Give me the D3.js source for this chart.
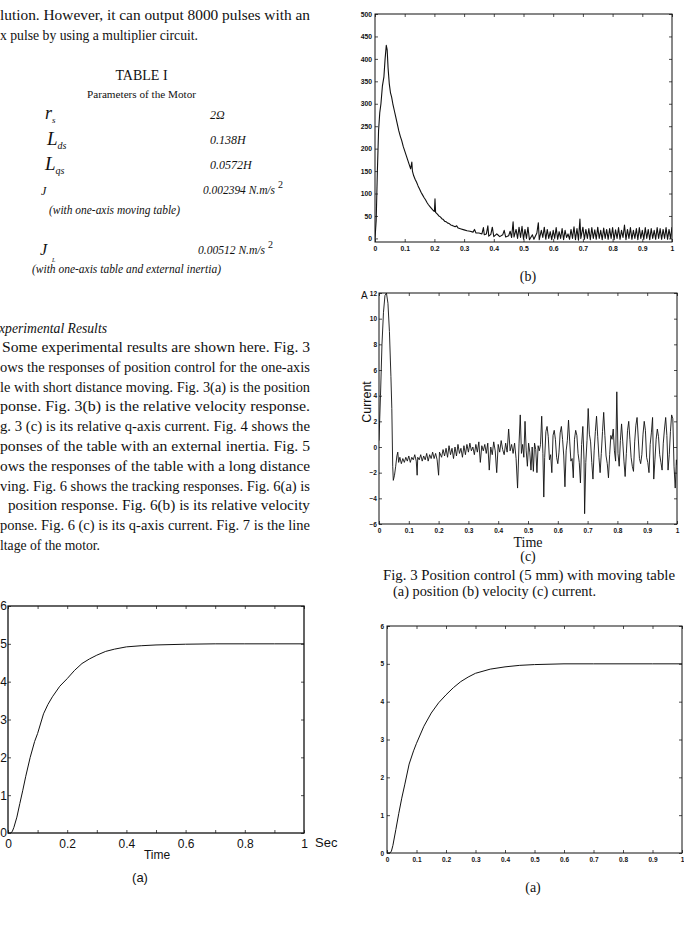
<!DOCTYPE html>
<html>
<head>
<meta charset="utf-8">
<script src="https://cdn.jsdelivr.net/npm/d3@7"></script>
<style>
  body { margin: 0; background: #fff; }
  svg { display: block; }
  .serif { font-family: "Liberation Serif", "Times New Roman", serif; }
  .sans { font-family: "Liberation Sans", Arial, sans-serif; }
</style>
</head>
<body>
<svg id="page" width="684" height="930"></svg>
<script>
// ---- data ----

// Fig 3(a) position, mm vs sec
var pos3 = [[0,0],[0.01,0],[0.015,0.05],[0.02,0.15],[0.03,0.42],[0.04,0.78],[0.05,1.13],[0.06,1.5],[0.075,2.0],[0.09,2.42],[0.1,2.63],[0.12,3.15],[0.135,3.4],[0.15,3.6],[0.175,3.88],[0.2,4.08],[0.225,4.3],[0.25,4.48],[0.275,4.6],[0.3,4.7],[0.33,4.8],[0.36,4.86],[0.4,4.92],[0.45,4.95],[0.5,4.97],[0.6,4.99],[0.7,5],[0.8,5],[0.9,5],[1,5]];

// Fig 4(a) position
var pos4 = [[0,0],[0.01,0],[0.015,0.05],[0.02,0.2],[0.03,0.62],[0.04,1.05],[0.05,1.45],[0.06,1.8],[0.075,2.35],[0.09,2.7],[0.1,2.9],[0.125,3.35],[0.15,3.7],[0.175,3.97],[0.2,4.18],[0.225,4.37],[0.25,4.53],[0.275,4.65],[0.3,4.75],[0.35,4.86],[0.4,4.92],[0.45,4.96],[0.5,4.98],[0.6,5],[0.7,5],[0.8,5],[0.9,5],[1,5]];

// Fig 3(b) velocity
var vel3 = [[0,0],[0.004,40],[0.008,150],[0.012,240],[0.016,280],[0.02,300],[0.025,340],[0.03,360],[0.034,400],[0.038,430],[0.041,420],[0.044,380],[0.048,345],[0.052,325],[0.056,315],[0.06,300],[0.065,285],[0.07,270],[0.075,255],[0.08,240],[0.085,228],[0.09,218],[0.095,205],[0.1,195],[0.105,185],[0.11,175],[0.115,165],[0.12,155],[0.124,170],[0.126,150],[0.13,140],[0.135,132],[0.14,125],[0.145,117],[0.15,110],[0.155,103],[0.16,97],[0.165,91],[0.17,86],[0.175,80],[0.18,75],[0.185,71],[0.19,67],[0.195,63],[0.2,60],[0.202,88],[0.204,58],[0.21,54],[0.215,50],[0.22,48],[0.225,44],[0.23,42],[0.235,38],[0.24,37],[0.245,34],[0.25,33],[0.255,30],[0.26,29],[0.27,26],[0.275,28],[0.28,23],[0.29,21],[0.3,19],[0.31,17],[0.32,16],[0.33,14],[0.335,20],[0.34,12],[0.35,12],[0.36,10],[0.365,24],[0.368,8],[0.375,10],[0.38,28],[0.383,5],[0.39,9],[0.395,25],[0.4,4],[0.41,10],[0.415,7],[0.42,4],[0.43,8],[0.435,18],[0.44,3],[0.45,6],[0.455,16],[0.46,2],[0.465,37],[0.468,3],[0.475,20],[0.48,0],[0.485,25],[0.49,2],[0.495,27],[0.5,-2],[0.505,20],[0.51,0],[0.515,25],[0.52,-3],[0.53,8],[0.535,-2],[0.545,12],[0.55,35],[0.553,-3],[0.56,18],[0.565,2],[0.57,25],[0.575,-2],[0.58,20],[0.585,0],[0.59,15],[0.595,-3],[0.6,18],[0.605,0],[0.61,24],[0.615,-2],[0.62,15],[0.625,0],[0.63,22],[0.635,-3],[0.64,18],[0.645,2],[0.65,10],[0.655,-2],[0.66,20],[0.665,0],[0.67,26],[0.675,-3],[0.68,22],[0.685,-4],[0.69,43],[0.693,0],[0.7,25],[0.705,-2],[0.71,20],[0.715,0],[0.72,22],[0.725,-3],[0.73,24],[0.735,0],[0.74,19],[0.745,-2],[0.75,25],[0.755,0],[0.76,18],[0.765,-3],[0.77,23],[0.775,0],[0.78,20],[0.785,-2],[0.79,22],[0.795,0],[0.8,24],[0.805,-3],[0.81,19],[0.815,0],[0.82,24],[0.825,-2],[0.83,18],[0.835,2],[0.84,30],[0.845,-3],[0.85,20],[0.855,0],[0.86,24],[0.865,-2],[0.87,18],[0.875,0],[0.88,22],[0.885,-3],[0.89,24],[0.895,0],[0.9,18],[0.905,-2],[0.91,24],[0.915,0],[0.92,20],[0.925,-3],[0.93,22],[0.935,0],[0.94,18],[0.945,-2],[0.95,24],[0.955,0],[0.96,22],[0.965,-2],[0.97,20],[0.975,0],[0.98,24],[0.985,-2],[0.99,20],[0.995,0],[1,25]];

// Fig 3(c) q-axis current, A
var cur3 = [[0,0.5],[0.005,4],[0.01,8],[0.015,10.5],[0.02,11.8],[0.025,12],[0.03,11.2],[0.035,9],[0.04,5.5],[0.043,3],[0.046,-1.5],[0.048,-2.6],[0.052,-2.2],[0.056,-1.5],[0.06,-0.7],[0.063,-0.4],[0.066,-1.2],[0.07,-0.8],[0.075,-1.3],[0.08,-0.9],[0.085,-1.2],[0.09,-0.8],[0.095,-1.1],[0.1,-0.7],[0.105,-1.2],[0.11,-0.8],[0.115,-1.0],[0.12,-0.6],[0.125,-1.1],[0.128,-2.2],[0.13,-0.8],[0.135,-1.0],[0.14,-0.6],[0.145,-1.1],[0.15,-0.7],[0.155,-1.0],[0.16,-0.5],[0.165,-1.1],[0.17,-0.6],[0.175,-0.9],[0.18,-0.4],[0.185,-0.9],[0.19,-0.5],[0.195,-1.0],[0.2,-2.2],[0.203,-0.4],[0.21,-0.8],[0.215,-0.2],[0.22,-0.7],[0.225,-0.1],[0.23,-0.8],[0.235,0.1],[0.24,-0.6],[0.245,-0.1],[0.25,-0.9],[0.255,0],[0.26,-0.7],[0.265,0.2],[0.27,-0.5],[0.275,-0.1],[0.28,-0.8],[0.285,0.1],[0.29,-0.6],[0.295,0.2],[0.3,-0.4],[0.305,0.3],[0.31,-0.3],[0.315,0],[0.32,-0.6],[0.325,0.2],[0.33,-0.4],[0.335,0.4],[0.34,-1.2],[0.345,0.1],[0.35,-0.3],[0.355,0.2],[0.36,-0.5],[0.365,0.3],[0.37,-1.8],[0.375,0],[0.38,-0.6],[0.385,0.4],[0.39,-0.3],[0.395,-2.0],[0.4,0.2],[0.405,-0.4],[0.41,0.5],[0.415,-0.2],[0.42,-0.6],[0.425,0.3],[0.43,-0.4],[0.435,1.4],[0.44,-0.3],[0.445,0.2],[0.45,-0.5],[0.455,0.3],[0.46,-0.9],[0.465,-3.2],[0.47,0.3],[0.474,2.5],[0.478,-0.5],[0.482,0.2],[0.486,-0.8],[0.49,2.0],[0.494,-0.3],[0.498,-1.5],[0.502,0.3],[0.506,-0.4],[0.51,-1.8],[0.514,0],[0.518,-1.9],[0.522,0.3],[0.526,-0.2],[0.53,-2.0],[0.534,0.1],[0.538,-0.3],[0.542,0.2],[0.546,2.4],[0.55,-0.5],[0.553,-3.9],[0.556,-0.8],[0.56,1.2],[0.564,1.6],[0.568,0.8],[0.572,-1.0],[0.576,-0.6],[0.58,-2.0],[0.584,0.9],[0.588,1.3],[0.592,0.6],[0.596,-0.8],[0.6,-1.3],[0.604,-0.4],[0.608,1.1],[0.612,1.6],[0.616,0.6],[0.62,-0.7],[0.624,-3.1],[0.628,-0.3],[0.632,0.5],[0.636,2.1],[0.64,0.4],[0.644,-1.1],[0.648,-0.9],[0.652,-2.4],[0.656,0.6],[0.66,1.3],[0.664,0.9],[0.668,-0.5],[0.672,-1.2],[0.676,-2.8],[0.68,0.2],[0.684,1.6],[0.688,-1.0],[0.69,-5.2],[0.694,-1.2],[0.698,0.5],[0.702,3.0],[0.706,1.0],[0.71,0.4],[0.714,-1.2],[0.718,-2.5],[0.722,-0.3],[0.726,1.2],[0.73,2.4],[0.734,0.8],[0.738,-0.8],[0.742,-2.0],[0.746,-0.5],[0.75,1.2],[0.754,2.7],[0.758,0.9],[0.762,-0.7],[0.766,-1.3],[0.77,-2.4],[0.774,-0.6],[0.778,0.9],[0.782,0.6],[0.786,1.4],[0.79,-0.3],[0.794,-1.1],[0.798,4.3],[0.802,-0.5],[0.806,-1.5],[0.81,0.5],[0.814,1.8],[0.818,0.4],[0.822,-1.1],[0.826,-2.3],[0.83,-0.5],[0.834,1.3],[0.838,2.0],[0.842,0.6],[0.846,-0.8],[0.85,-1.5],[0.854,-1.9],[0.858,0.4],[0.862,1.7],[0.866,2.3],[0.87,0.7],[0.874,-0.9],[0.878,-1.3],[0.882,-0.6],[0.886,1.0],[0.89,2.0],[0.894,1.3],[0.898,-0.8],[0.902,-1.2],[0.906,-2.0],[0.91,0.2],[0.914,1.1],[0.918,2.3],[0.922,-2.5],[0.926,-1.0],[0.93,0.6],[0.934,1.4],[0.938,0.8],[0.942,-0.6],[0.946,-1.2],[0.95,-1.8],[0.954,0.3],[0.958,1.4],[0.962,2.3],[0.966,0.9],[0.97,-1.8],[0.974,-0.6],[0.978,1.2],[0.982,2.5],[0.986,2.2],[0.99,-1.5],[0.994,-3.2],[0.998,-1.0],[1,-1.4]];

// tick values
var xTicksTenth = [0,0.1,0.2,0.3,0.4,0.5,0.6,0.7,0.8,0.9,1];
var posTicks = [0,1,2,3,4,5,6];
var velTicks = [0,50,100,150,200,250,300,350,400,450,500];
var curTicks = [-6,-4,-2,0,2,4,6,8,10,12];

// page text
var topLines = ["lution. However, it can output 8000 pulses with an", "x pulse by using a multiplier circuit."];
var bodyLines = [
  "Some experimental results are shown here. Fig. 3",
  "ows the responses of position control for the one-axis",
  "le with short distance moving. Fig. 3(a) is the position",
  "ponse. Fig. 3(b) is the relative velocity response.",
  "g. 3 (c) is its relative q-axis current. Fig. 4 shows the",
  "ponses of the table with an external inertia. Fig. 5",
  "ows the responses of the table with a long distance",
  "ving. Fig. 6 shows the tracking responses. Fig. 6(a) is",
  "position response. Fig. 6(b) is its relative velocity",
  "ponse. Fig. 6 (c) is its q-axis current. Fig. 7 is the line",
  "ltage of the motor."
];
var captionLines = ["Fig. 3 Position control (5 mm) with moving table", "(a) position (b) velocity (c) current."];

var svg = d3.select("#page");
svg.append("rect").attr("width", 684).attr("height", 930).attr("fill", "#fff");

// ---- text column ----
var txt = svg.append("g").attr("class", "serif").attr("fill", "#111");

txt.selectAll("text.top").data(topLines).enter().append("text")
  .attr("x", 0).attr("y", function(d, i) { return 20 + i * 19.5; })
  .attr("font-size", 14)
  .attr("textLength", function(d, i) { return i == 0 ? 310 : 198; })
  .attr("lengthAdjust", "spacingAndGlyphs")
  .text(function(d) { return d; });

txt.append("text").attr("x", 141.5).attr("y", 80).attr("text-anchor", "middle")
  .attr("font-size", 14).text("TABLE I");
txt.append("text").attr("x", 141.5).attr("y", 98).attr("text-anchor", "middle")
  .attr("font-size", 10.5).attr("textLength", 109).attr("lengthAdjust", "spacingAndGlyphs")
  .text("Parameters of the Motor");

// table rows
var it = txt.append("g").attr("font-style", "italic");
var rs = it.append("text").attr("x", 45).attr("y", 119).attr("font-size", 18);
rs.append("tspan").text("r");
rs.append("tspan").attr("font-size", 9).attr("dy", 4).text("s");
it.append("text").attr("x", 210).attr("y", 119).attr("font-size", 12).text("2\u03A9");

var lds = it.append("text").attr("x", 47).attr("y", 145).attr("font-size", 19);
lds.append("tspan").text("L");
lds.append("tspan").attr("font-size", 10).attr("dy", 4).text("ds");
it.append("text").attr("x", 210).attr("y", 144).attr("font-size", 12).text("0.138H");

var lqs = it.append("text").attr("x", 45).attr("y", 170).attr("font-size", 19);
lqs.append("tspan").text("L");
lqs.append("tspan").attr("font-size", 10).attr("dy", 4).text("qs");
it.append("text").attr("x", 210).attr("y", 169).attr("font-size", 12).text("0.0572H");

it.append("text").attr("x", 41).attr("y", 195).attr("font-size", 12).text("J");
it.append("text").attr("x", 203).attr("y", 194).attr("font-size", 12)
  .attr("textLength", 72).attr("lengthAdjust", "spacingAndGlyphs").text("0.002394 N.m/s");
it.append("text").attr("x", 278).attr("y", 188).attr("font-size", 10).attr("font-style", "normal").text("2");
it.append("text").attr("x", 49).attr("y", 214).attr("font-size", 12)
  .attr("textLength", 131).attr("lengthAdjust", "spacingAndGlyphs").text("(with one-axis moving table)");

it.append("text").attr("x", 40).attr("y", 255).attr("font-size", 16).text("J");
it.append("text").attr("x", 52).attr("y", 262).attr("font-size", 6).text("L");
it.append("text").attr("x", 198).attr("y", 254).attr("font-size", 12)
  .attr("textLength", 67).attr("lengthAdjust", "spacingAndGlyphs").text("0.00512 N.m/s");
it.append("text").attr("x", 268).attr("y", 248).attr("font-size", 10).attr("font-style", "normal").text("2");
it.append("text").attr("x", 32).attr("y", 273).attr("font-size", 12)
  .attr("textLength", 189).attr("lengthAdjust", "spacingAndGlyphs").text("(with one-axis table and external inertia)");

txt.append("text").attr("x", -1).attr("y", 333).attr("font-size", 15).attr("font-style", "italic")
  .attr("textLength", 108).attr("lengthAdjust", "spacingAndGlyphs").text("xperimental Results");

txt.selectAll("text.body").data(bodyLines).enter().append("text")
  .attr("x", function(d, i) { return i == 0 ? 2 : (i == 8 ? 8 : 0); })
  .attr("y", function(d, i) { return 352 + i * 19.8; })
  .attr("font-size", 14)
  .attr("textLength", function(d, i) { return i == 10 ? 100 : (i == 0 ? 308 : (i == 8 ? 302 : 310)); })
  .attr("lengthAdjust", "spacingAndGlyphs")
  .text(function(d) { return d; });

// ---- chart panels ----
var panelId = 0;
function panel(o) {
  panelId++;
  var x = d3.scaleLinear().domain([0, 1]).range([o.left, o.right]);
  var y = d3.scaleLinear().domain(o.yDomain).range([o.bottom, o.top]);
  var g = svg.append("g").attr("class", "sans");

  g.append("clipPath").attr("id", "clip" + panelId)
    .append("rect").attr("x", o.left).attr("y", o.top)
    .attr("width", o.right - o.left).attr("height", o.bottom - o.top);

  var fs = o.fontSize;
  var axB = g.append("g").attr("transform", "translate(0," + o.bottom + ")")
    .call(d3.axisBottom(x).tickValues(xTicksTenth).tickSizeInner(-o.tick).tickSizeOuter(0)
      .tickPadding(o.xPad).tickFormat(o.xFmt));
  var axT = g.append("g").attr("transform", "translate(0," + o.top + ")")
    .call(d3.axisTop(x).tickValues(xTicksTenth).tickSizeInner(-o.tick).tickSizeOuter(0).tickFormat(""));
  var axL = g.append("g").attr("transform", "translate(" + o.left + ",0)")
    .call(d3.axisLeft(y).tickValues(o.yTicks).tickSizeInner(-o.tick).tickSizeOuter(0)
      .tickPadding(o.yPad).tickFormat(d3.format("d")));
  var axR = g.append("g").attr("transform", "translate(" + o.right + ",0)")
    .call(d3.axisRight(y).tickValues(o.yTicks).tickSizeInner(-o.tick).tickSizeOuter(0).tickFormat(""));

  [axB, axT, axL, axR].forEach(function(a) {
    a.select(".domain").remove();
    a.selectAll("line").attr("stroke", "#222").attr("stroke-width", 0.8);
    a.selectAll("text").attr("fill", "#111").attr("font-size", fs).attr("font-weight", o.weight || "bold")
      .attr("font-family", '"Liberation Sans", Arial, sans-serif');
  });

  g.append("rect").attr("x", o.left).attr("y", o.top)
    .attr("width", o.right - o.left).attr("height", o.bottom - o.top)
    .attr("fill", "none").attr("stroke", "#111").attr("stroke-width", o.frameW || 1);

  g.append("path").datum(o.data)
    .attr("clip-path", "url(#clip" + panelId + ")")
    .attr("fill", "none").attr("stroke", "#111").attr("stroke-width", o.lineW || 1)
    .attr("stroke-linejoin", "round")
    .attr("d", d3.line().x(function(d) { return x(d[0]); }).y(function(d) { return y(d[1]); }));
  return g;
}

var fmtTenth = function(d) { return d == 0 || d == 1 ? d3.format("d")(d) : d3.format(".1f")(d); };
var fmtFifth = function(d) {
  var k = Math.round(d * 10);
  if (k % 2) return "";
  return d == 0 || d == 1 ? d3.format("d")(d) : d3.format(".1f")(d);
};

// Fig 3(b) velocity
panel({ left: 375, right: 672, top: 14, bottom: 242, yDomain: [-8, 500], yTicks: velTicks,
  data: vel3, tick: 3, xPad: 4, yPad: 3, xFmt: fmtTenth, fontSize: 6.8, lineW: 1.1 });

// Fig 3(c) current
panel({ left: 379, right: 677, top: 293, bottom: 524, yDomain: [-6, 12], yTicks: curTicks,
  data: cur3, tick: 3, xPad: 4, yPad: 2, xFmt: fmtTenth, fontSize: 6.5, lineW: 0.9 });

// Fig 3(a) position (left column)
panel({ left: 8, right: 304, top: 606, bottom: 833, yDomain: [0, 6], yTicks: posTicks,
  data: pos3, tick: 3, xPad: 6, yPad: 1, xFmt: fmtFifth, fontSize: 12, weight: "normal", frameW: 1.3, lineW: 1 });

// Fig 4(a) position (right column)
panel({ left: 387, right: 682, top: 626, bottom: 853, yDomain: [0, 6], yTicks: posTicks,
  data: pos4, tick: 3, xPad: 4, yPad: 3, xFmt: fmtTenth, fontSize: 6.5, lineW: 1 });

// ---- chart labels ----
var lab = svg.append("g").attr("fill", "#111");
lab.append("text").attr("class", "serif").attr("x", 528).attr("y", 281).attr("text-anchor", "middle")
  .attr("font-size", 14).text("(b)");

lab.append("text").attr("class", "sans").attr("x", 361).attr("y", 299).attr("font-size", 10).text("A");
lab.append("text").attr("class", "sans").attr("transform", "translate(371,402) rotate(-90)")
  .attr("text-anchor", "middle").attr("font-size", 12.5).text("Current");
lab.append("text").attr("class", "serif").attr("x", 528).attr("y", 547).attr("text-anchor", "middle")
  .attr("font-size", 14).text("Time");
lab.append("text").attr("class", "serif").attr("x", 528).attr("y", 561).attr("text-anchor", "middle")
  .attr("font-size", 14).text("(c)");
lab.selectAll("text.cap").data(captionLines).enter().append("text").attr("class", "serif")
  .attr("x", function(d, i) { return i == 0 ? 383 : 393; })
  .attr("y", function(d, i) { return 580 + i * 16; })
  .attr("font-size", 14)
  .attr("textLength", function(d, i) { return i == 0 ? 292 : 203; })
  .attr("lengthAdjust", "spacingAndGlyphs")
  .text(function(d) { return d; });

lab.append("text").attr("class", "sans").attr("x", 315).attr("y", 847).attr("font-size", 13).text("Sec");
lab.append("text").attr("class", "sans").attr("x", 157).attr("y", 859).attr("text-anchor", "middle")
  .attr("font-size", 12).text("Time");
lab.append("text").attr("class", "sans").attr("x", 140).attr("y", 882).attr("text-anchor", "middle")
  .attr("font-size", 13).text("(a)");

lab.append("text").attr("class", "serif").attr("x", 533).attr("y", 892).attr("text-anchor", "middle")
  .attr("font-size", 14).text("(a)");
</script>
</body>
</html>
